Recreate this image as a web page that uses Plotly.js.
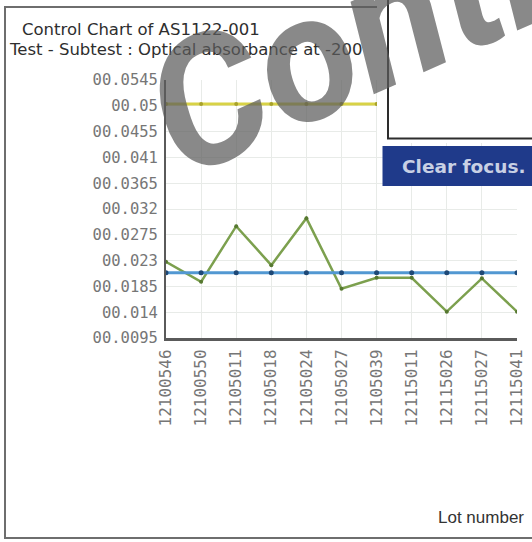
<!DOCTYPE html>
<html>
<head>
<meta charset="utf-8">
<script src="https://cdn.plot.ly/plotly-3.0.1.min.js"></script>
<style>
  html, body { margin: 0; padding: 0; background: #fff; }
  #graph { width: 532px; height: 542px; }
</style>
</head>
<body>
<div id="graph"></div>
<script>
// lot numbers along the x axis
var lots = ['12100546', '12100550', '12105011', '12105018', '12105024', '12105027',
  '12105039', '12115011', '12115026', '12115027', '12115041'];

// measured optical absorbance per lot
var absorb = [0.0228, 0.0193, 0.0290, 0.0222, 0.0304, 0.0181, 0.0200, 0.0200, 0.0141, 0.0199, 0.0141];
// centre line (mean)
var meanLine = [0.0209, 0.0209, 0.0209, 0.0209, 0.0209, 0.0209, 0.0209, 0.0209, 0.0209, 0.0209, 0.0209];
// upper control limit
var uclLine = [0.0503, 0.0503, 0.0503, 0.0503, 0.0503, 0.0503, 0.0503, 0.0503, 0.0503, 0.0503, 0.0503];

// y ticks
var yTicks = [0.0095, 0.014, 0.0185, 0.023, 0.0275, 0.032, 0.0365, 0.041, 0.0455, 0.05, 0.0545];
var yTickText = ['00.0095', '00.014', '00.0185', '00.023', '00.0275', '00.032', '00.0365',
  '00.041', '00.0455', '00.05', '00.0545'];

// plot area in pixels, used to place the decorations
var L = 166, T = 80, W = 351, H = 258;
function px(x) { return (x - L) / W; }
function py(y) { return (T + H - y) / H; }

var trMeas = {
  x: lots,
  y: absorb,
  mode: 'lines+markers',
  type: 'scatter',
  line: { color: 'rgb(124,160,78)', width: 2.5 },
  marker: { size: 4, color: 'rgb(86,120,48)' },
  name: 'Result'
};

var trMean = {
  x: lots,
  y: meanLine,
  mode: 'lines+markers',
  type: 'scatter',
  line: { color: 'rgb(82,152,210)', width: 3 },
  marker: { size: 5, color: 'rgb(30,72,118)' },
  name: 'Mean'
};

var trUcl = {
  x: lots,
  y: uclLine,
  mode: 'lines+markers',
  type: 'scatter',
  line: { color: 'rgb(216,210,70)', width: 3 },
  marker: { size: 4, color: 'rgb(168,162,44)' },
  name: 'UCL'
};

var tickFont = { family: 'DejaVu Sans Mono', size: 15.5, color: 'rgb(118,118,118)' };
var textFont = { family: 'DejaVu Sans', size: 16.5, color: '#2e2e2e' };

var layout = {
  width: 532,
  height: 542,
  showlegend: false,
  paper_bgcolor: '#fff',
  plot_bgcolor: '#fff',
  margin: { l: L, r: 532 - L - W, t: T, b: 542 - T - H },
  title: {
    text: 'Control Chart of AS1122-001',
    xref: 'container', yref: 'container',
    x: 22 / 532, xanchor: 'left',
    y: 1 - 29 / 542, yanchor: 'middle',
    font: textFont
  },
  xaxis: {
    type: 'category',
    range: [0, 10],
    showgrid: true,
    gridcolor: 'rgb(232,235,232)',
    gridwidth: 1,
    showline: true,
    linecolor: 'rgb(90,90,90)',
    linewidth: 3,
    zeroline: false,
    ticks: '',
    tickangle: -90,
    ticklabelstandoff: 2,
    tickfont: { family: 'DejaVu Sans Mono', size: 16, color: 'rgb(118,118,118)' }
  },
  yaxis: {
    range: [0.0095, 0.0545],
    tickvals: yTicks,
    ticktext: yTickText,
    showgrid: true,
    gridcolor: 'rgb(232,235,232)',
    gridwidth: 1,
    showline: true,
    linecolor: 'rgb(90,90,90)',
    linewidth: 2,
    zeroline: false,
    ticks: '',
    ticklabelstandoff: 3,
    tickfont: tickFont
  },
  shapes: [
    // outer frame
    { type: 'rect', xref: 'paper', yref: 'paper', layer: 'below',
      x0: px(5), x1: px(545), y0: py(538), y1: py(7),
      line: { color: 'rgb(110,110,110)', width: 2 } },
    // white popup area covering the top right
    { type: 'rect', xref: 'paper', yref: 'paper', layer: 'above',
      x0: px(377), x1: px(545), y0: py(143), y1: py(-5),
      fillcolor: '#fff', line: { width: 0 } },
    { type: 'rect', xref: 'paper', yref: 'paper', layer: 'above',
      x0: px(388), x1: px(545), y0: py(138.5), y1: py(-10),
      fillcolor: '#fff', line: { color: 'rgb(45,45,45)', width: 2 } },
    // button
    { type: 'rect', xref: 'paper', yref: 'paper', layer: 'above',
      x0: px(382.5), x1: px(545), y0: py(186), y1: py(146),
      fillcolor: 'rgb(31,58,138)', line: { width: 0 } }
  ],
  annotations: [
    { text: 'Test - Subtest : Optical absorbance at -200',
      xref: 'paper', yref: 'paper', x: px(7), y: py(49),
      xanchor: 'left', yanchor: 'middle', showarrow: false, font: textFont },
    { text: 'Lot number',
      xref: 'paper', yref: 'paper', x: px(526), y: py(517),
      xanchor: 'right', yanchor: 'middle', showarrow: false,
      font: { family: 'Liberation Sans', size: 17, color: '#333' } },
    { text: 'Clear focus.',
      xref: 'paper', yref: 'paper', x: px(400), y: py(166),
      xanchor: 'left', yanchor: 'middle', showarrow: false,
      font: { family: 'DejaVu Sans', size: 18.5, weight: 'bold', color: 'rgb(200,208,228)' } },
    // watermark
    { text: 'Conti',
      xref: 'paper', yref: 'paper', x: px(346), y: py(40),
      xanchor: 'center', yanchor: 'middle', showarrow: false, textangle: -24,
      font: { family: 'Roboto', size: 178, weight: 'bold', style: 'italic',
        color: 'rgba(92,92,92,0.72)' } }
  ]
};

Plotly.newPlot('graph', [trMeas, trMean, trUcl], layout, { staticPlot: true });
</script>
</body>
</html>
